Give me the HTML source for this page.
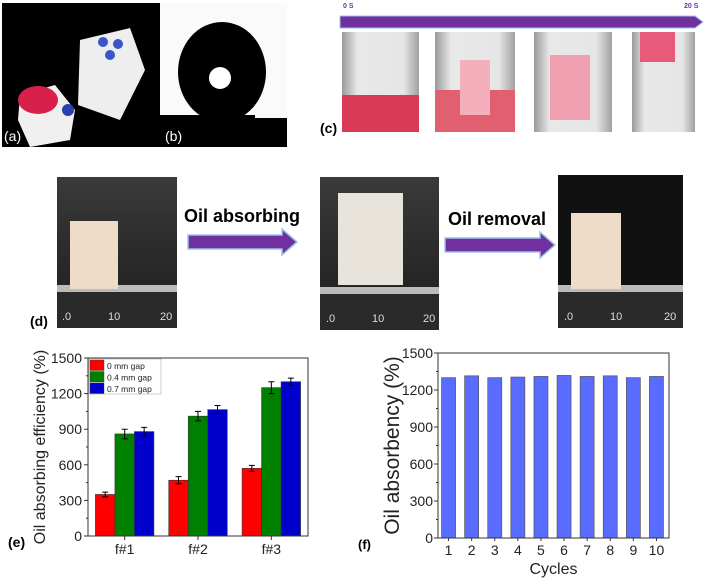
<!DOCTYPE html>
<html><head><meta charset="utf-8"><style>
body{margin:0;background:#fff;width:705px;height:581px;overflow:hidden;font-family:"Liberation Sans",sans-serif}
svg{display:block}
</style></head><body>
<svg id="fig" width="705" height="581" viewBox="0 0 705 581">
<defs>
<linearGradient id="glass" x1="0" y1="0" x2="1" y2="0"><stop offset="0" stop-color="#9a9a9a"/><stop offset="0.2" stop-color="#e8e8e8"/><stop offset="0.8" stop-color="#e6e6e6"/><stop offset="1" stop-color="#a0a0a0"/></linearGradient>
<linearGradient id="dark" x1="0" y1="0" x2="0" y2="1"><stop offset="0" stop-color="#3a3a3a"/><stop offset="1" stop-color="#1c1c1c"/></linearGradient>
</defs>
<!-- panel a -->
<g>
<rect x="2" y="3" width="158" height="144" fill="#000"/>
<polygon points="80,40 130,28 145,70 120,120 78,105" fill="#eeeeee"/>
<circle cx="103" cy="42" r="5" fill="#3a56c8"/><circle cx="118" cy="44" r="5" fill="#3a56c8"/><circle cx="110" cy="55" r="5" fill="#3a56c8"/>
<polygon points="20,95 55,85 75,110 70,140 30,147 18,120" fill="#f0f0f0"/>
<ellipse cx="38" cy="100" rx="20" ry="14" fill="#d8204a"/>
<circle cx="68" cy="110" r="6" fill="#2a3fb0"/>
<text x="4" y="141" font-size="14" fill="#fff">(a)</text>
</g>
<!-- panel b -->
<g>
<rect x="160" y="3" width="127" height="144" fill="#fafafa"/>
<rect x="160" y="115" width="127" height="32" fill="#000"/>
<rect x="255" y="110" width="32" height="8" fill="#fafafa"/>
<ellipse cx="222" cy="72" rx="44" ry="50" fill="#000"/>
<circle cx="220" cy="78" r="11" fill="#fff"/>
<text x="165" y="141" font-size="14" fill="#fff">(b)</text>
</g>
<!-- panel c -->
<g>
<text x="343" y="8" font-size="7" fill="#7030a0" font-weight="bold">0 S</text>
<text x="684" y="8" font-size="7" fill="#7030a0" font-weight="bold">20 S</text>
<polygon points="340,16 695,16 703,22 695,28 340,28" fill="#7030a0" stroke="#9dc3e6" stroke-width="1"/>
<rect x="342" y="32" width="77" height="100" fill="url(#glass)"/>
<rect x="342" y="95" width="77" height="37" fill="#d83a55"/>
<rect x="435" y="32" width="80" height="100" fill="url(#glass)"/>
<rect x="435" y="90" width="80" height="42" fill="#e06070"/>
<rect x="460" y="60" width="30" height="55" fill="#f3b0bc"/>
<rect x="534" y="32" width="78" height="100" fill="url(#glass)"/>
<rect x="550" y="55" width="40" height="65" fill="#f0a0b0"/>
<rect x="632" y="32" width="63" height="100" fill="url(#glass)"/>
<rect x="640" y="32" width="35" height="30" fill="#e85a7a"/>
<text x="320" y="133" font-size="14" font-weight="bold" fill="#000">(c)</text>
</g>
<!-- panel d -->
<g>
<rect x="57" y="177" width="120" height="151" fill="url(#dark)"/>
<rect x="57" y="285" width="120" height="7" fill="#bbb"/>
<rect x="57" y="292" width="120" height="36" fill="#2a2a2a"/>
<rect x="70" y="221" width="48" height="68" fill="#efdcc8"/>
<text x="62" y="320" font-size="11" fill="#ddd">.0</text><text x="108" y="320" font-size="11" fill="#ddd">10</text><text x="160" y="320" font-size="11" fill="#ddd">20</text>
<rect x="320" y="177" width="119" height="153" fill="url(#dark)"/>
<rect x="320" y="287" width="119" height="7" fill="#bbb"/>
<rect x="320" y="294" width="119" height="36" fill="#2a2a2a"/>
<rect x="338" y="193" width="65" height="92" fill="#e8e4dc"/>
<text x="326" y="322" font-size="11" fill="#ddd">.0</text><text x="372" y="322" font-size="11" fill="#ddd">10</text><text x="423" y="322" font-size="11" fill="#ddd">20</text>
<rect x="558" y="175" width="125" height="153" fill="#111"/>
<rect x="558" y="285" width="125" height="7" fill="#bbb"/>
<rect x="558" y="292" width="125" height="36" fill="#2a2a2a"/>
<rect x="571" y="213" width="50" height="76" fill="#efdcc8"/>
<text x="564" y="320" font-size="11" fill="#ddd">.0</text><text x="610" y="320" font-size="11" fill="#ddd">10</text><text x="664" y="320" font-size="11" fill="#ddd">20</text>
<text x="242" y="222" font-size="18" font-weight="bold" text-anchor="middle">Oil absorbing</text>
<polygon points="188,235 282,235 282,229 297,242 282,255 282,249 188,249" fill="#7030a0" stroke="#9dc3e6" stroke-width="1.5"/>
<text x="497" y="225" font-size="18" font-weight="bold" text-anchor="middle">Oil removal</text>
<polygon points="445,238 540,238 540,232 555,245 540,258 540,252 445,252" fill="#7030a0" stroke="#9dc3e6" stroke-width="1.5"/>
<text x="30" y="326" font-size="14" font-weight="bold">(d)</text>
</g>
<g id="chartE"></g>
<g id="chartF"></g>
<text x="8" y="547" font-size="14" font-weight="bold">(e)</text>
<text x="358" y="549" font-size="13" font-weight="bold">(f)</text>
</svg>
<script>
const eCategories = ["f#1","f#2","f#3"];
const eSeriesNames = ["0 mm gap","0.4 mm gap","0.7 mm gap"];
const eGap0 = [350,470,570];
const eGap04 = [860,1010,1250];
const eGap07 = [880,1065,1300];
const eErr0 = [20,30,25];
const eErr04 = [40,40,50];
const eErr07 = [35,35,30];
const eTicks = [0,300,600,900,1200,1500];
const fCycles = ["1","2","3","4","5","6","7","8","9","10"];
const fValues = [1300,1315,1300,1305,1310,1318,1310,1315,1300,1310];
const fTicks = [0,300,600,900,1200,1500];

const NS="http://www.w3.org/2000/svg";
function mk(parent,tag,attrs,text){const el=document.createElementNS(NS,tag);for(const k in attrs)el.setAttribute(k,attrs[k]);if(text!==undefined)el.textContent=text;parent.appendChild(el);return el;}

// chart e
(function(){
const g=document.getElementById('chartE');
const L=88,R=308,T=358,B=536,max=1500;
const y=v=>B-(v/max)*(B-T);
const groupW=(R-L)/3;
const x=i=>L+groupW*(i+0.5);
const bw=19.5;
const series=[eGap0,eGap04,eGap07],errs=[eErr0,eErr04,eErr07],cols=["#ff0000","#008000","#0000cc"];
series.forEach((s,si)=>{s.forEach((v,i)=>{
 const cx=x(i)+(si-1)*bw;
 const r=mk(g,'rect',{x:cx-bw/2,y:y(v),width:bw,height:B-y(v),fill:cols[si],stroke:'#333','stroke-width':0.6});
 
 
 const e=errs[si][i];
 const eb=mk(g,'path',{d:`M${cx},${y(v+e)}V${y(v-e)}M${cx-3},${y(v+e)}h6M${cx-3},${y(v-e)}h6`,stroke:'#000','stroke-width':1,fill:'none'});
 
 
});});
const fr=mk(g,'rect',{x:L,y:T,width:R-L,height:B-T,fill:'none',stroke:'#333','stroke-width':1});


eTicks.forEach(t=>{
 mk(g,'line',{x1:L-4,x2:L,y1:y(t),y2:y(t),stroke:'#333'});
 if(t<1500) mk(g,'line',{x1:L-2,x2:L,y1:y(t+150),y2:y(t+150),stroke:'#333'});
 const tl=mk(g,'text',{x:L-6,y:y(t)+5,'font-size':14,'text-anchor':'end',fill:'#222'},String(t));
 
 
});
eCategories.forEach((c,i)=>{
 mk(g,'line',{x1:x(i),x2:x(i),y1:B,y2:B+4,stroke:'#333'});
 const tl=mk(g,'text',{x:x(i),y:B+18,'font-size':14,'text-anchor':'middle',fill:'#222'},c);
 
 
});
const yt=mk(g,'text',{x:0,y:0,'font-size':16,'text-anchor':'middle',transform:`translate(45,${(T+B)/2}) rotate(-90)`,fill:'#222'},'Oil absorbing efficiency (%)');


const lg=mk(g,'g',{});


mk(lg,'rect',{x:L+1,y:T+1,width:72,height:35,fill:'#fff',stroke:'#999','stroke-width':0.5});
eSeriesNames.forEach((n,i)=>{
 const le=mk(lg,'g',{});
 
 
 mk(le,'rect',{x:L+2,y:T+2+i*11.5,width:14,height:10.5,fill:cols[i],stroke:'#333','stroke-width':0.4});
 mk(le,'text',{x:L+19,y:T+11+i*11.5,'font-size':8.5,fill:'#222'},n);
});
})();

// chart f
(function(){
const g=document.getElementById('chartF');
const L=438,R=669,T=353,B=538,max=1500;
const y=v=>B-(v/max)*(B-T);
const step=(R-L)/10;
const x=i=>L+step*(i+0.5)-1;
const bw=14;
fValues.forEach((v,i)=>{
 const r=mk(g,'rect',{x:x(i)-bw/2,y:y(v),width:bw,height:B-y(v),fill:'#5a6cff',stroke:'#555','stroke-width':0.7});
 
 
 mk(g,'line',{x1:x(i),x2:x(i),y1:B,y2:B+3,stroke:'#333'});
 const tl=mk(g,'text',{x:x(i),y:B+17,'font-size':14,'text-anchor':'middle',fill:'#222'},fCycles[i]);
 
 
});
const fr=mk(g,'rect',{x:L,y:T,width:R-L,height:B-T,fill:'none',stroke:'#333','stroke-width':1});


fTicks.forEach(t=>{
 mk(g,'line',{x1:L-4,x2:L,y1:y(t),y2:y(t),stroke:'#333'});
 if(t<1500) mk(g,'line',{x1:L-2,x2:L,y1:y(t+150),y2:y(t+150),stroke:'#333'});
 const tl=mk(g,'text',{x:L-5,y:y(t)+5,'font-size':14,'text-anchor':'end',fill:'#222'},String(t));
 
 
});
const xt=mk(g,'text',{x:(L+R)/2,y:574,'font-size':16,'text-anchor':'middle',fill:'#222'},'Cycles');


const yt=mk(g,'text',{x:0,y:0,'font-size':21,'text-anchor':'middle',transform:`translate(399,${(T+B)/2}) rotate(-90)`,fill:'#222'},'Oil absorbency (%)');


})();
</script>
</body></html>
